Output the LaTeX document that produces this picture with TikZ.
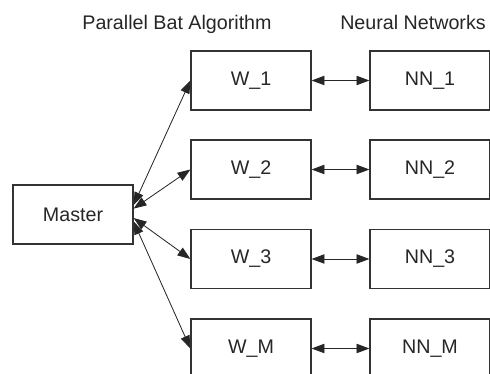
\documentclass[tikz,border=0pt]{standalone}
\usepackage{fontspec}
\setmainfont{Liberation Sans}
\usetikzlibrary{arrows.meta}

\begin{document}
\begin{tikzpicture}[x=0.03cm, y=-0.03cm,
    box/.style={draw=black!80, line width=1pt, rectangle, minimum width=3.6cm, minimum height=1.77cm, text=black!85, font=\fontsize{16.8}{20}\selectfont},
    link/.style={{Triangle[length=11pt,width=8pt]}-{Triangle[length=11pt,width=8pt]}, line width=0.7pt, black!85},
    title/.style={text=black!85, font=\fontsize{16.8}{20}\selectfont}]
    \useasboundingbox (0,0) rectangle (490,374);

    % Titles
    \node[title] (bat) at (177, 24) {Parallel Bat Algorithm};
    \node[title] (nets) at (413, 22) {Neural Networks};

    % Master
    \node[box] (master) at (73, 214.5) {Master};

    % Workers
    \node[box] (w1) at (251, 80.5) {W\_1};
    \node[box] (w2) at (251, 169.5) {W\_2};
    \node[box] (w3) at (251, 259) {W\_3};
    \node[box] (wm) at (251, 348.5) {W\_M};

    % Networks
    \node[box] (nn1) at (430, 80.5) {NN\_1};
    \node[box] (nn2) at (430, 169.5) {NN\_2};
    \node[box] (nn3) at (430, 259) {NN\_3};
    \node[box] (nnm) at (430, 348.5) {NN\_M};

    % Connections
    \draw[link] ([yshift=8pt]master.east) -- (w1.west);
    \draw[link] ([yshift=5pt]master.east) -- (w2.west);
    \draw[link] ([yshift=-3pt]master.east) -- (w3.west);
    \draw[link] ([yshift=-6pt]master.east) -- (wm.west);

    \draw[link] (w1) -- (nn1);
    \draw[link] (w2) -- (nn2);
    \draw[link] (w3) -- (nn3);
    \draw[link] (wm) -- (nnm);
\end{tikzpicture}
\end{document}
